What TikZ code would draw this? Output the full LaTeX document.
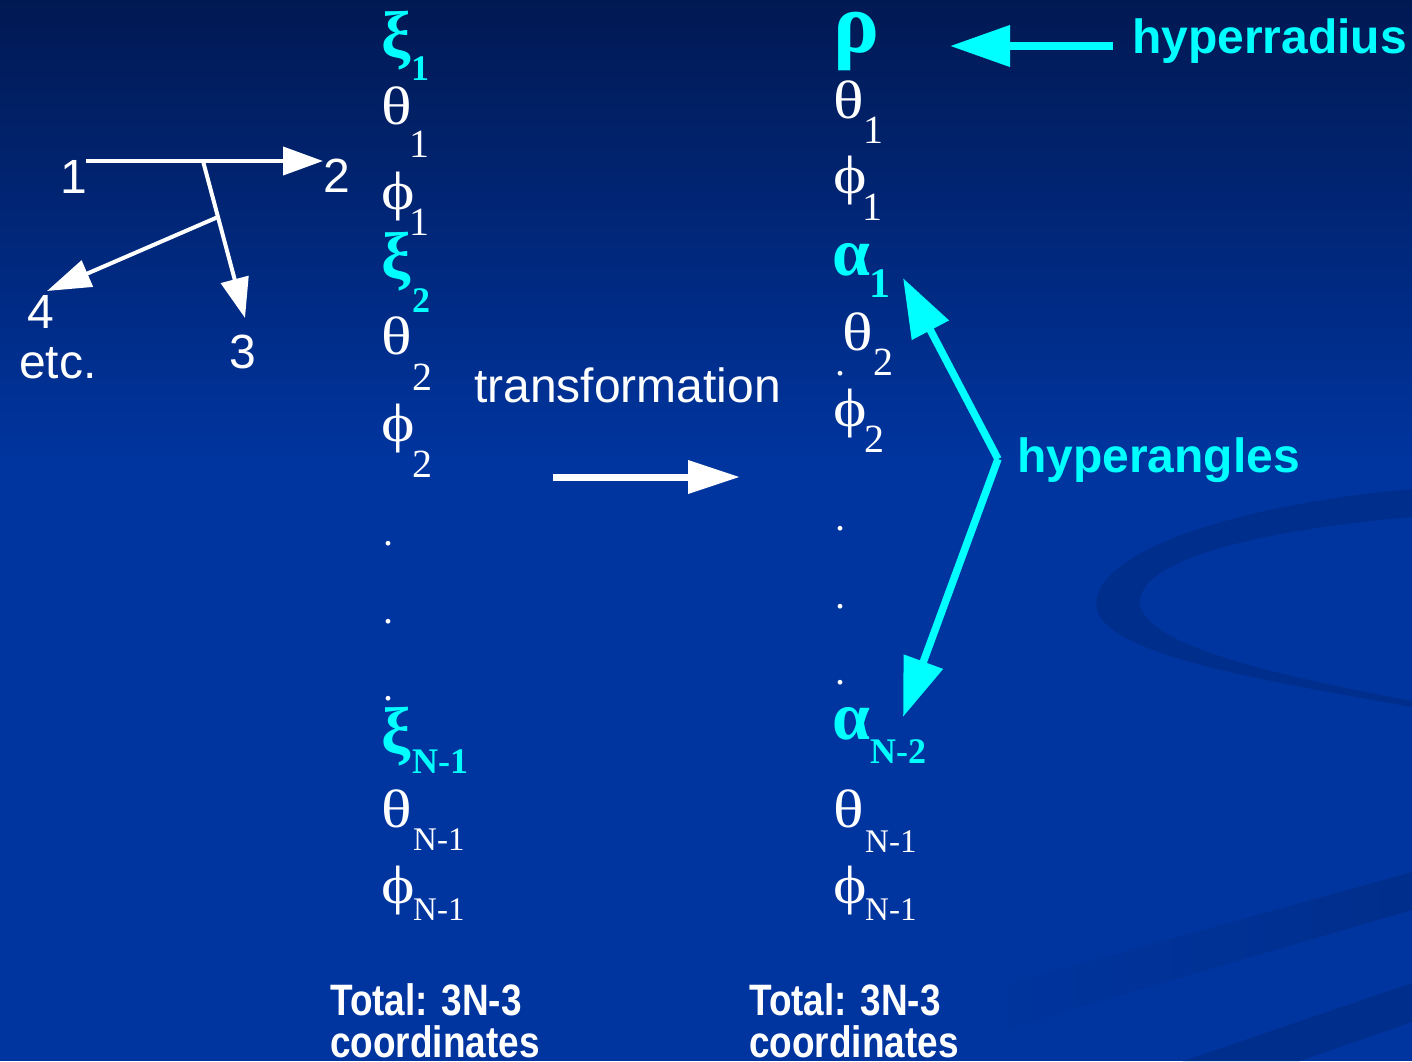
\documentclass[tikz,border=0pt]{standalone}
\usepackage{fontspec}
\setmainfont{Liberation Serif}
\newfontfamily\greekwide[FakeStretch=1.18]{Liberation Serif}
\newfontfamily\labelsans{Liberation Sans}
\newfontfamily\narrowsans[FakeStretch=0.84]{Liberation Sans}
\usetikzlibrary{arrows.meta}
\definecolor{bgtop}{HTML}{011953}
\definecolor{bgbody}{HTML}{0035A0}
\definecolor{swoosh}{HTML}{002E8C}
\definecolor{hcyan}{HTML}{00FFFF}
\tikzset{
  sym/.style={anchor=base west, inner sep=0pt, text=white, font=\greekwide\fontsize{54}{54}\selectfont},
  csym/.style={anchor=base west, inner sep=0pt, text=hcyan, font=\bfseries\fontsize{66}{66}\selectfont},
  sub/.style={anchor=base west, inner sep=0pt, text=white, font=\fontsize{40}{40}\selectfont},
  nsub/.style={anchor=base west, inner sep=0pt, text=white, font=\fontsize{33}{33}\selectfont},
  csub/.style={anchor=base west, inner sep=0pt, text=hcyan, font=\bfseries\fontsize{36}{36}\selectfont},
  vdot/.style={anchor=base west, inner sep=0pt, text height=5pt, text depth=0pt, text=white, font=\fontsize{40}{40}\selectfont},
  lbl/.style={anchor=base west, inner sep=0pt, text=white, font=\labelsans\fontsize{48}{48}\selectfont},
  clbl/.style={anchor=base west, inner sep=0pt, text=hcyan, font=\labelsans\bfseries\fontsize{48}{48}\selectfont},
  total/.style={anchor=base west, inner sep=0pt, text=white, font=\narrowsans\bfseries\fontsize{44}{44}\selectfont},
  wline/.style={draw=white, line width=4pt, -{Triangle[length=40pt,width=28pt]}},
  bigarrow/.style={draw=white, line width=7pt, -{Triangle[length=52pt,width=32pt]}},
  carrow/.style={draw=hcyan, line width=7.5pt, -{Triangle[length=59pt,width=40pt]}},
}
\begin{document}
\begin{tikzpicture}[x=1pt,y=-1pt]
  \useasboundingbox (0,0) rectangle (1412,1061);
  % background
  \fill[bgbody] (0,0) rectangle (1412,1061);
  \shade[top color=bgtop, bottom color=bgbody] (0,0) rectangle (1412,470);
  % decorative swooshes
  \fill[swoosh] (1412,489) .. controls (1230,505) and (1085,555) .. (1097,610)
     .. controls (1110,655) and (1260,680) .. (1412,707) -- (1412,701)
     .. controls (1260,672) and (1150,645) .. (1140,605)
     .. controls (1135,560) and (1260,530) .. (1412,517) -- cycle;
  \shade[left color=bgbody, right color=swoosh] (950,1000) -- (1412,872) -- (1412,910) -- (950,1045) -- cycle;
  \fill[swoosh] (1183,1061) -- (1412,983) -- (1412,1022) -- (1300,1061) -- cycle;

  % particle sketch
  \node[lbl] (n1) at (60,193) {1};
  \node[lbl] (n2) at (323,192) {2};
  \node[lbl] (n3) at (229,368) {3};
  \node[lbl] (n4) at (27,328) {4};
  \node[lbl] (etc) at (19,378) {etc.};
  \coordinate (o1) at (86,161);
  \coordinate (t2) at (323,161);
  \coordinate (j1) at (203,161);
  \coordinate (t3) at (245,318);
  \coordinate (j2) at (218,217);
  \coordinate (t4) at (47,291);
  \draw[wline] (o1) -- (t2);
  \draw[wline] (j1) -- (t3);
  \draw[wline, -{Triangle[length=44pt,width=28pt]}] (j2) -- (t4);

  % Jacobi coordinates
  \node[csym] (xi1) at (381,57) {ξ};
  \node[csub] (xi1s) at (411,80) {1};
  \node[sym] (th1) at (381,124) {θ};
  \node[sub] (th1s) at (409,157) {1};
  \node[sym] (ph1) at (381,209) {ϕ};
  \node[sub] (ph1s) at (409,235) {1};
  \node[csym] (xi2) at (381,278) {ξ};
  \node[csub] (xi2s) at (412,312) {2};
  \node[sym] (th2) at (381,354) {θ};
  \node[sub] (th2s) at (412,390) {2};
  \node[sym] (ph2) at (381,441) {ϕ};
  \node[sub] (ph2s) at (412,477) {2};
  \node[vdot] (ld1) at (383,545) {.};
  \node[vdot] (ld2) at (383,623) {.};
  \node[vdot] (ld3) at (383,700) {.};
  \node[csym] (xin) at (381,753) {ξ};
  \node[csub] (xins) at (412,773) {N-1};
  \node[sym] (thn) at (381,827) {θ};
  \node[nsub] (thns) at (413,850) {N-1};
  \node[sym] (phn) at (381,903) {ϕ};
  \node[nsub] (phns) at (413,920) {N-1};

  % transformation
  \node[lbl] (tr) at (474,402) {transformation};
  \coordinate (tra) at (553,477);
  \coordinate (trb) at (740,477);
  \draw[bigarrow] (tra) -- (trb);

  % hyperspherical coordinates
  \node[csym, text height=44pt, font=\bfseries\fontsize{86}{86}\selectfont] (rho) at (833,52) {ρ};
  \node[sym] (rth1) at (833,118) {θ};
  \node[sub] (rth1s) at (863,143) {1};
  \node[sym] (rph1) at (833,193) {ϕ};
  \node[sub] (rph1s) at (862,220) {1};
  \node[csym, font=\bfseries\fontsize{68}{68}\selectfont] (al1) at (832,275) {α};
  \node[csub, font=\bfseries\fontsize{42}{42}\selectfont] (al1s) at (869,297) {1};
  \node[sym] (rth2) at (842,350) {θ};
  \node[vdot] (rd0) at (835,375) {.};
  \node[sub] (rth2s) at (873,375) {2};
  \node[sym] (rph2) at (833,426) {ϕ};
  \node[sub] (rph2s) at (864,452) {2};
  \node[vdot] (rd1) at (835,530) {.};
  \node[vdot] (rd2) at (835,608) {.};
  \node[vdot] (rd3) at (835,684) {.};
  \node[csym, font=\bfseries\fontsize{68}{68}\selectfont] (aln) at (832,739) {α};
  \node[csub] (alns) at (870,763) {N-2};
  \node[sym] (rthn) at (833,827) {θ};
  \node[nsub] (rthns) at (865,852) {N-1};
  \node[sym] (rphn) at (833,903) {ϕ};
  \node[nsub] (rphns) at (865,920) {N-1};

  % annotations
  \node[clbl] (hr) at (1132,53) {hyperradius};
  \coordinate (hra) at (1113,46);
  \coordinate (hrb) at (950,46);
  \draw[carrow, -{Triangle[length=60pt,width=40pt]}] (hra) -- (hrb);
  \node[clbl] (ha) at (1017,472) {hyperangles};
  \coordinate (apex) at (998,459);
  \coordinate (ta) at (903,278);
  \coordinate (tb) at (903,717);
  \draw[carrow] (apex) -- (ta);
  \draw[carrow] (apex) -- (tb);

  % totals
  \node[total] (tl1) at (330,1015) {Total: 3N-3};
  \node[total] (tl2) at (330,1057) {coordinates};
  \node[total] (tr1) at (749,1015) {Total: 3N-3};
  \node[total] (tr2) at (749,1057) {coordinates};
\end{tikzpicture}
\end{document}
